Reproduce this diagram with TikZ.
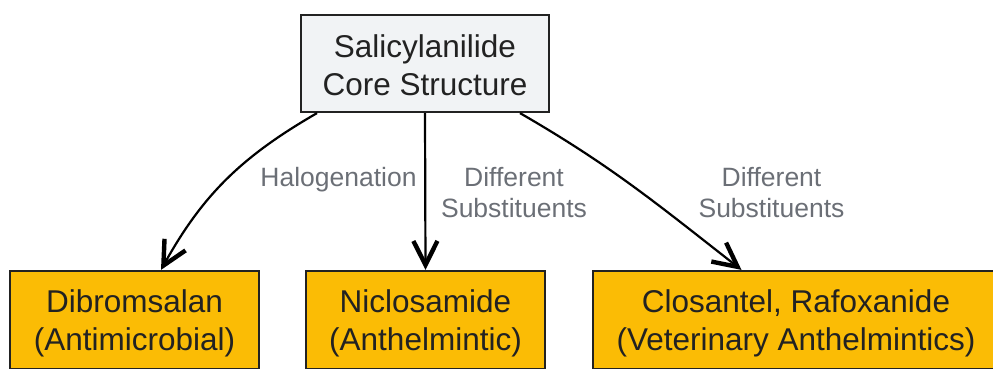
\documentclass[tikz,border=0pt]{standalone}
\usepackage{fontspec}
\setmainfont{Liberation Sans}
\usetikzlibrary{arrows.meta}
\definecolor{corefill}{HTML}{F1F3F5}
\definecolor{drugfill}{HTML}{FBBC05}
\definecolor{txtcol}{HTML}{222222}
\definecolor{lblcol}{HTML}{6B6F76}
\newcommand\bstrut{\rule[-3pt]{0pt}{32pt}}
\newcommand\lstrut{\rule[-6pt]{0pt}{26pt}}
\begin{document}
\begin{tikzpicture}[x=1pt,y=1pt,
  box/.style={draw=txtcol, line width=2.2pt, text=txtcol, align=center, inner sep=0pt,
              font=\fontsize{31.5}{38}\selectfont},
  core/.style={box, fill=corefill, minimum width=248pt, minimum height=97pt},
  drug/.style={box, fill=drugfill, minimum height=98pt},
  lab/.style={text=lblcol, align=center, inner sep=0pt, font=\fontsize{26.5}{31.5}\selectfont},
  link/.style={draw=black, line width=2.2pt, -{Straight Barb[length=24pt,width=24pt,line width=0pt 2]}}]
\clip (0,0) rectangle (993,368);
\node[core] (core) at (425,304.5) {\bstrut Salicylanilide\\\bstrut Core Structure};
\node[drug, minimum width=249pt] (dib) at (134.5,48) {\bstrut Dibromsalan\\\bstrut (Antimicrobial)};
\node[drug, minimum width=239pt] (nic) at (425.5,48) {\bstrut Niclosamide\\\bstrut (Anthelmintic)};
\node[drug, minimum width=406pt] (clo) at (796,48) {\bstrut Closantel, Rafoxanide\\\bstrut (Veterinary Anthelmintics)};
\draw[link] ([xshift=-108pt]core.south) to[out=210,in=61] ([xshift=26.5pt]dib.north);
\draw[link] (core.south) -- (nic.north);
\draw[link] ([xshift=95pt]core.south) to[out=-30,in=142] ([xshift=-54.5pt]clo.north);
\node[lab] (halo) at (338.5,189) {\lstrut Halogenation};
\node[lab] (sub1) at (514,173.25) {\lstrut Different\\\lstrut Substituents};
\node[lab] (sub2) at (771.5,173.25) {\lstrut Different\\\lstrut Substituents};
\end{tikzpicture}
\end{document}
